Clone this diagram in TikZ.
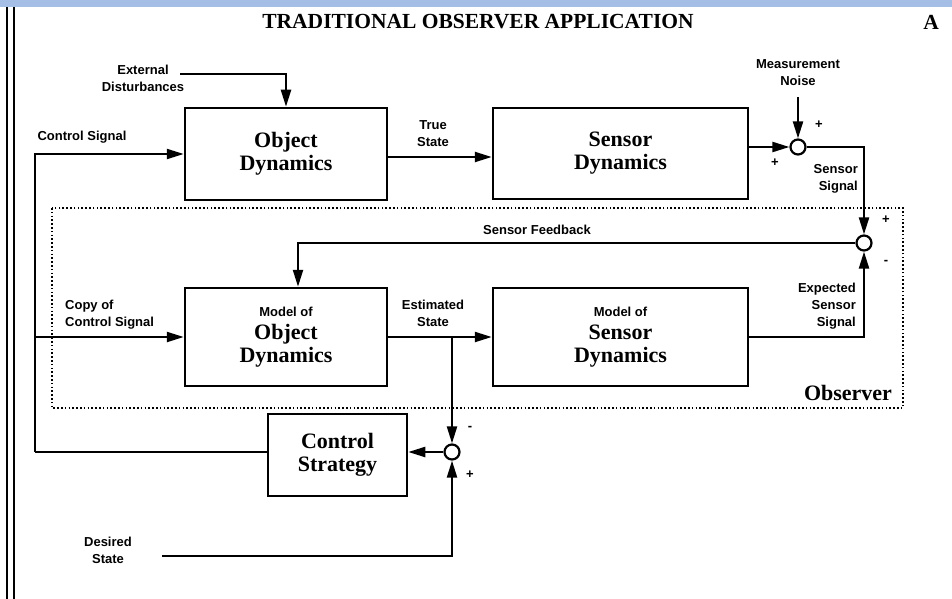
\documentclass[tikz,border=0pt]{standalone}
\usepackage{fontspec}
\setmainfont{Liberation Serif}
\newfontfamily\lsans{Liberation Sans}
\usetikzlibrary{arrows.meta}
\newcommand\bxfont{\fontsize{22}{23}\selectfont\bfseries}
\newcommand\lbfont{\lsans\bfseries\fontsize{13}{17}\selectfont}
\definecolor{topbar}{RGB}{164,190,230}
\tikzset{
  box/.style={draw, line width=2.5pt, inner sep=0pt, align=center, font=\bxfont},
  lab/.style={font=\lbfont, inner sep=0pt},
  sumc/.style={circle, draw, line width=2.2pt, minimum size=15pt, inner sep=0pt, fill=white},
  conn/.style={line width=2.2pt},
  arr/.style={conn, -{Triangle[length=17pt,width=10pt]}},
  obsframe/.style={line width=1.6pt, dash pattern=on 1.6pt off 2.2pt}
}
\begin{document}
\begin{tikzpicture}[x=1pt,y=-1pt]
\useasboundingbox (0,0) rectangle (952,599);
\fill[topbar] (0,0) rectangle (952,7);
\draw[line width=1.2pt] (7,7) -- (7,599);
\draw[line width=2.2pt] (14,7) -- (14,599);

% title
\node[font=\fontsize{21.5}{24}\selectfont\bfseries, inner sep=0pt] (title) at (478,22) {TRADITIONAL OBSERVER APPLICATION};
\node[font=\fontsize{21.5}{24}\selectfont\bfseries, inner sep=0pt] (tagA) at (931,22) {A};

% observer frame
\draw[obsframe] (52,208) rectangle (903,408);
\node[font=\bxfont, inner sep=0pt] (obs) at (848,393) {Observer};

% boxes
\node[box, minimum width=202pt, minimum height=92pt] (obj) at (286,154) {Object\\Dynamics};
\node[box, minimum width=255pt, minimum height=91pt] (sen) at (620.5,153.5) {Sensor\\Dynamics};
\node[box, minimum width=202pt, minimum height=98pt] (mobj) at (286,337) {{\lbfont Model of}\\Object\\Dynamics};
\node[box, minimum width=255pt, minimum height=98pt] (msen) at (620.5,337) {{\lbfont Model of}\\Sensor\\Dynamics};
\node[box, minimum width=139pt, minimum height=82pt] (ctrl) at (337.5,455) {Control\\Strategy};

% summing junctions
\node[sumc] (s1) at (798,147) {};
\node[sumc] (s2) at (864,243) {};
\node[sumc] (s3) at (452,452) {};

% labels
\node[lab, align=center] (ext) at (143,78) {External\\Disturbances};
\node[lab] (ctrlsig) at (82,137) {Control Signal};
\node[lab, align=center] (truest) at (433,134) {True\\State};
\node[lab, align=center] (noise) at (798,73) {Measurement\\Noise};
\node[lab, align=right, anchor=east] (sensig) at (858,179) {Sensor\\Signal};
\node[lab] (feedb) at (537,230) {Sensor Feedback};
\node[lab, align=left, anchor=west] (copy) at (65,315) {Copy of\\Control Signal};
\node[lab, align=center] (estst) at (433,313) {Estimated\\State};
\node[lab, align=right, anchor=east] (expss) at (856,306) {Expected\\Sensor\\Signal};
\node[lab, align=center] (desst) at (108,550) {Desired\\State};

% signs
\node[lab] (p1) at (819,125) {+};
\node[lab] (p2) at (775,163) {+};
\node[lab] (p3) at (886,220) {+};
\node[lab] (m1) at (886,262) {-};
\node[lab] (m2) at (470,428) {-};
\node[lab] (p4) at (470,475) {+};

% coordinates
\coordinate (extc) at (180,74);
\coordinate (noisec) at (798,97);
\coordinate (cs) at (35,452);
\coordinate (desc) at (162,556);
\coordinate (tsc) at ([yshift=-3pt]obj.east);

% connectors
\draw[arr] (extc) -| (obj.north);
\draw[arr] (cs |- s3) -- (cs) |- (obj.west);
\draw[conn] (ctrl.west |- s3) -- (cs);
\draw[arr] (cs |- mobj.west) -- (mobj.west);
\draw[arr] (tsc) -- (tsc -| sen.west);
\draw[arr] (sen.east |- s1) -- (s1.west);
\draw[arr] (noisec) -- (s1.north);
\draw[arr] (s1.east) -| (s2.north);
\draw[arr] (s2.west) -| ([xshift=12pt]mobj.north);
\draw[arr] (mobj.east) -- (msen.west);
\draw[arr] (s3 |- mobj.east) -- (s3.north);
\draw[arr] (msen.east) -| (s2.south);
\draw[arr] (s3.west) -- (s3.west -| ctrl.east);
\draw[arr] (desc) -| (s3.south);
\end{tikzpicture}
\end{document}
